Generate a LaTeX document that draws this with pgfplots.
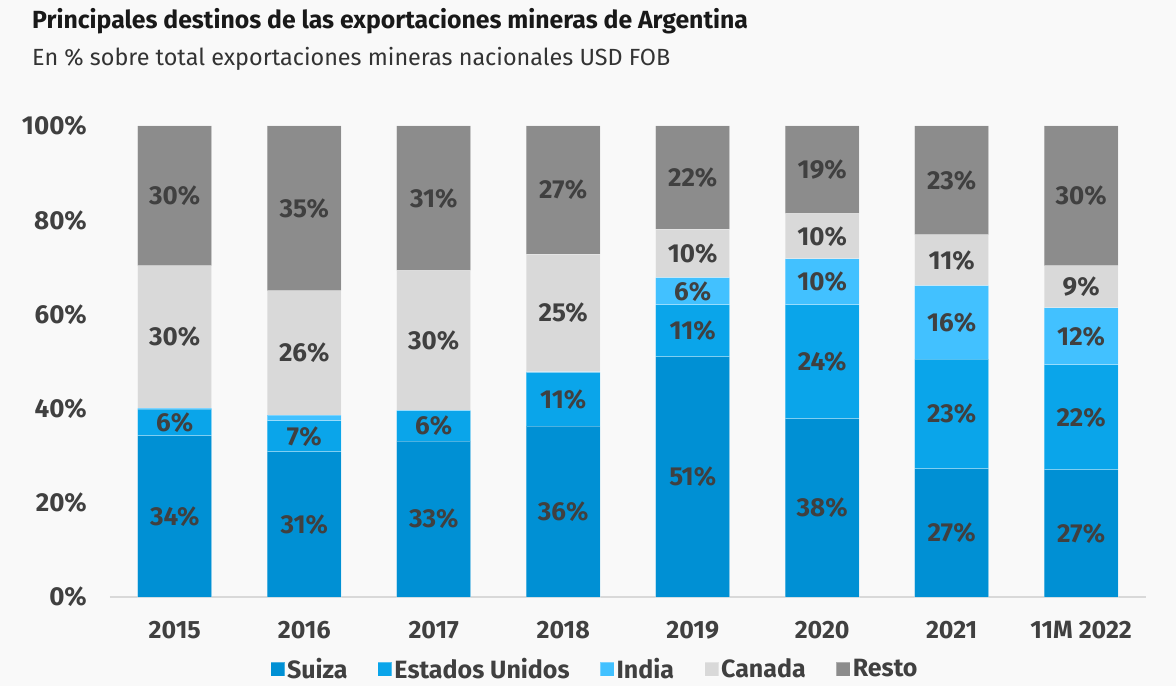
\documentclass[border=0pt]{standalone}
\usepackage{pgfplots}
\pgfplotsset{compat=1.18}
\usepackage{pgfplotstable}
\usepackage{fontspec}
\setmainfont{Fira Sans}
\definecolor{suiza}{HTML}{0090D4}
\definecolor{eeuu}{HTML}{0AA5EA}
\definecolor{india}{HTML}{42C1FF}
\definecolor{canada}{HTML}{D9D9D9}
\definecolor{resto}{HTML}{8C8C8C}
\definecolor{txt}{HTML}{404040}
\definecolor{bg}{HTML}{F9F9F9}
\pgfplotstableread{
x suiza eeuu india canada resto ls le li lc lr
0 34.2 5.7 0.2 30.2 29.7 34 6 - 30 30
1 30.8 6.6 1.2 26.4 35.0 31 7 - 26 35
2 33.1 6.4 0.2 29.6 30.7 33 6 - 30 31
3 36.3 11.4 0.1 25.0 27.2 36 11 - 25 27
4 51.0 11.0 5.8 10.3 21.9 51 11 6 10 22
5 37.8 24.2 9.8 9.6 18.6 38 24 10 10 19
6 27.2 23.3 15.6 10.8 23.1 27 23 16 11 23
7 27.0 22.3 12.1 8.9 29.7 27 22 12 9 30
}\datatable
\def\dashmark{-}
\newcommand\lab{\edef\tmp{\pgfplotspointmeta}\ifx\tmp\dashmark\else\tmp\%\fi}
\begin{document}
\begin{tikzpicture}[x=1pt,y=1pt]
\fill[bg] (0,0) rectangle (1176,686);
\useasboundingbox (0,0) rectangle (1176,686);
\node[anchor=base west, inner sep=0pt, font=\fontsize{24.8}{28}\selectfont\bfseries, text=black!90] at (32,657) {Principales destinos de las exportaciones mineras de Argentina};
\node[anchor=base west, inner sep=0pt, font=\fontsize{23.4}{27}\selectfont, text=black!80] at (32,620) {En \% sobre total exportaciones mineras nacionales USD FOB};
\begin{axis}[
  at={(110pt,89pt)}, anchor=south west,
  scale only axis, width=1036pt, height=471pt,
  ybar stacked, bar width=74pt,
  xmin=-0.5, xmax=7.5, ymin=0, ymax=100,
  xtick={0,...,7},
  xticklabels={2015,2016,2017,2018,2019,2020,2021,11M 2022},
  ytick={0,20,...,100},
  yticklabel={\pgfmathprintnumber{\tick}\%},
  /pgf/number format/assume math mode=true,
  axis x line*=bottom, axis y line*=left,
  x axis line style={-, draw=canada, line width=2pt},
  y axis line style={draw=none},
  major tick length=0pt, tick style={draw=none},
  xticklabel style={font=\fontsize{25}{29}\selectfont\bfseries, text=txt, anchor=north, inner sep=0pt, yshift=-24pt},
  yticklabel style={font=\fontsize{26}{30}\selectfont\bfseries, text=txt, anchor=east, inner sep=0pt, xshift=-23pt},
  point meta=explicit symbolic,
  nodes near coords={\lab},
  every node near coord/.append style={anchor=center, font=\fontsize{26}{30}\selectfont\bfseries, text=txt},
  legend columns=5,
  legend style={draw=none, fill=none, at={(0.468,-0.153)}, anchor=center,
    font=\fontsize{25}{29}\selectfont\bfseries, text=txt,
    /tikz/every even column/.append style={column sep=28pt}},
  legend image code/.code={\fill[#1] (0pt,-7pt) rectangle (14pt,7pt);},
  clip=false,
]
\addplot[fill=suiza, draw=white, draw opacity=0.3, line width=1pt] table[x=x, y=suiza, meta=ls] {\datatable};
\addplot[fill=eeuu, draw=white, draw opacity=0.3, line width=1pt] table[x=x, y=eeuu, meta=le] {\datatable};
\addplot[fill=india, draw=white, draw opacity=0.3, line width=1pt] table[x=x, y=india, meta=li] {\datatable};
\addplot[fill=canada, draw=white, draw opacity=0.3, line width=1pt] table[x=x, y=canada, meta=lc] {\datatable};
\addplot[fill=resto, draw=white, draw opacity=0.3, line width=1pt] table[x=x, y=resto, meta=lr] {\datatable};
\legend{Suiza, Estados Unidos, India, Canada, Resto}
\end{axis}
\end{tikzpicture}
\end{document}
